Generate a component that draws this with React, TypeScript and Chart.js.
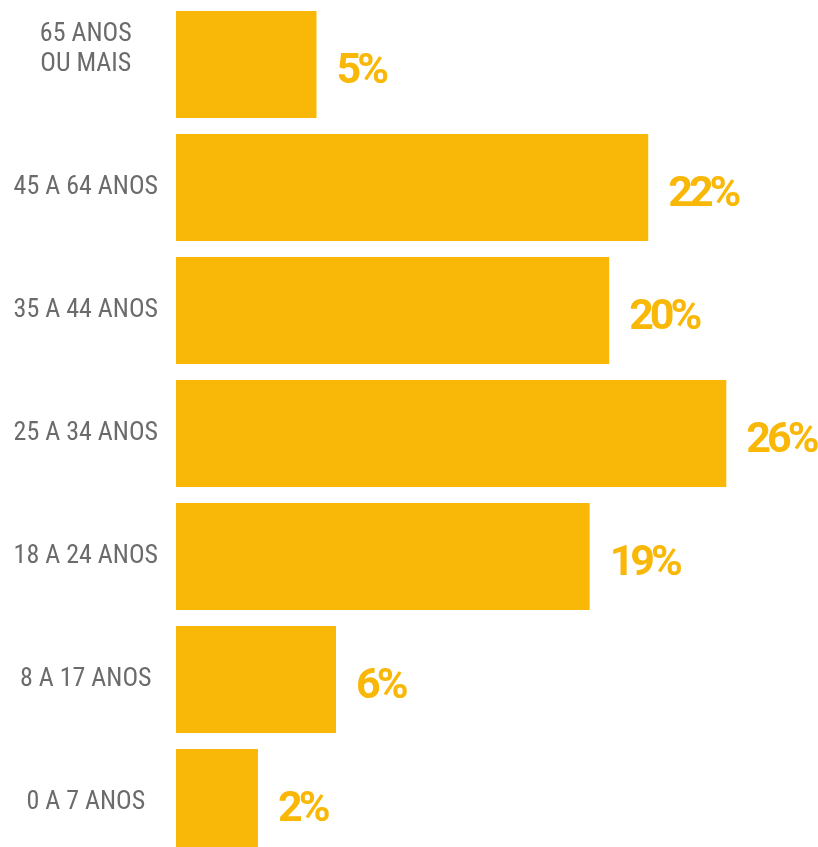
import React, { useEffect, useRef } from "react";
import { Chart, registerables } from "chart.js";

Chart.register(...registerables);

const categories: (string | string[])[] = [
  ["65 ANOS", "OU MAIS", ""],
  "45 A 64 ANOS",
  "35 A 44 ANOS",
  "25 A 34 ANOS",
  "18 A 24 ANOS",
  "8 A 17 ANOS",
  "0 A 7 ANOS",
];
const shares: number[] = [5, 22, 20, 26, 19, 6, 2];

const BAR = "#F9B807";
const LABEL_FONT = "'Roboto Condensed', 'Liberation Sans Narrow', sans-serif";
const VALUE_FONT = "Roboto, 'Roboto Condensed', sans-serif";

const valueLabels = {
  id: "valueLabels",
  afterDatasetsDraw(chart: any) {
    const ctx = chart.ctx;
    const meta = chart.getDatasetMeta(0);
    ctx.save();
    ctx.fillStyle = BAR;
    ctx.font = `bold 43px ${VALUE_FONT}`;
    ctx.textAlign = "left";
    ctx.textBaseline = "middle";
    try { (ctx as any).letterSpacing = "-4px"; } catch (e) {}
    meta.data.forEach((bar: any, i: number) => {
      ctx.fillText(`${shares[i]}%`, bar.x + 20, bar.y + 8);
    });
    ctx.restore();
  },
};

export default function App() {
  const ref = useRef<HTMLCanvasElement | null>(null);
  useEffect(() => {
    document.body.style.margin = "0";
    document.body.style.overflow = "hidden";
    const chart = new Chart(ref.current as HTMLCanvasElement, {
      type: "bar",
      data: {
        labels: categories,
        datasets: [
          {
            data: shares,
            backgroundColor: BAR,
            base: -2.2,
            barPercentage: 0.87,
            categoryPercentage: 1,
          } as any,
        ],
      },
      options: {
        indexAxis: "y",
        responsive: false,
        animation: false,
        layout: { padding: { top: 3, bottom: 6, left: 0, right: 0 } },
        plugins: { legend: { display: false }, tooltip: { enabled: false } },
        scales: {
          x: { display: false, min: -2.2, max: 30.7 },
          y: {
            grid: { display: false, drawTicks: false },
            border: { display: false },
            afterFit(scale: any) {
              scale.width = 176;
              scale.paddingTop = 0;
              scale.paddingBottom = 0;
            },
            ticks: {
              crossAlign: "center",
              padding: 18,
              color: "#6b6b6b",
              font: { family: LABEL_FONT, size: 26, weight: "normal", lineHeight: 1.17 },
            },
          },
        },
      },
      plugins: [valueLabels],
    });
    return () => chart.destroy();
  }, []);
  return (
    <div>
      <canvas ref={ref} width={818} height={870} style={{ display: "block" }} />
    </div>
  );
}
